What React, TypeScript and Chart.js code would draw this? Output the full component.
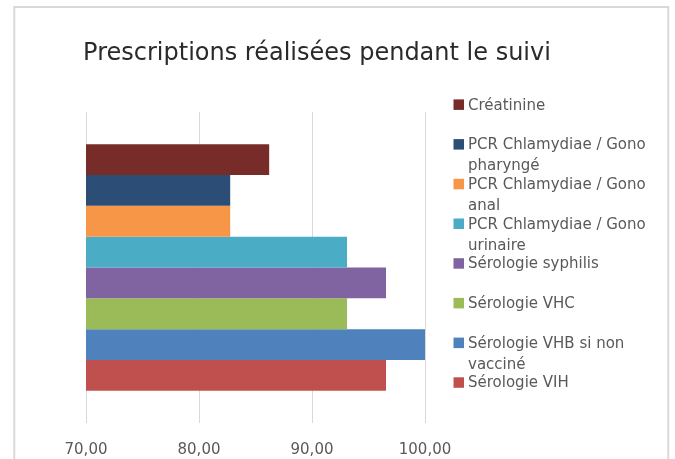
import { useEffect, useRef } from 'react';
import { Chart, registerables } from 'chart.js';

Chart.register(...registerables);

const categories = [''];
const seriesNames = [
  'Créatinine',
  'PCR Chlamydiae / Gono pharyngé',
  'PCR Chlamydiae / Gono anal',
  'PCR Chlamydiae / Gono urinaire',
  'Sérologie syphilis',
  'Sérologie VHC',
  'Sérologie VHB si non vacciné',
  'Sérologie VIH',
];
const seriesValues = [86.21, 82.76, 82.76, 93.1, 96.55, 93.1, 100, 96.55];
const seriesColors = ['#772C2A', '#2C4D75', '#F79646', '#4BACC6', '#8064A2', '#9BBB59', '#4F81BD', '#C0504D'];
const tickValues = [70, 80, 90, 100];
const titleText = 'Prescriptions réalisées pendant le suivi';

const FONT = '"DejaVu Sans", "Liberation Sans", sans-serif';

function wrap(ctx: CanvasRenderingContext2D, text: string, maxW: number): string[] {
  const words = text.split(' ');
  const lines: string[] = [];
  let cur = '';
  for (const w of words) {
    const t = cur ? cur + ' ' + w : w;
    if (ctx.measureText(t).width > maxW && cur) {
      lines.push(cur);
      cur = w;
    } else cur = t;
  }
  if (cur) lines.push(cur);
  return lines;
}

const decor = {
  id: 'decor',
  beforeDraw(chart: any) {
    const ctx = chart.ctx;
    ctx.save();
    ctx.fillStyle = '#ffffff';
    ctx.fillRect(0, 0, chart.width, chart.height);
    ctx.restore();
  },
  afterDraw(chart: any) {
    const ctx: CanvasRenderingContext2D = chart.ctx;
    ctx.save();
    ctx.strokeStyle = '#d9d9d9';
    ctx.lineWidth = 2;
    ctx.strokeRect(14.3, 7, 654, 480);

    ctx.font = '24px ' + FONT;
    ctx.fillStyle = '#2a2a2a';
    ctx.textAlign = 'center';
    ctx.textBaseline = 'alphabetic';
    ctx.fillText(titleText, 317, 60);

    ctx.font = '15px ' + FONT;
    ctx.textAlign = 'left';
    ctx.textBaseline = 'middle';
    chart.data.datasets.forEach((ds: any, i: number) => {
      const y = 104.7 + i * 39.7;
      ctx.fillStyle = ds.backgroundColor;
      ctx.fillRect(453.5, y - 5.3, 10.5, 10.5);
      ctx.fillStyle = '#595959';
      const lines = wrap(ctx, ds.label, 188);
      lines.forEach((ln, j) => ctx.fillText(ln, 468, y + 1 + j * 21));
    });
    ctx.restore();
  },
};

export default function App() {
  const ref = useRef<HTMLCanvasElement>(null);
  useEffect(() => {
    if (!ref.current) return;
    const chart = new Chart(ref.current, {
      type: 'bar',
      data: {
        labels: categories,
        datasets: seriesNames.map((name, i) => ({
          label: name,
          data: [seriesValues[i]],
          backgroundColor: seriesColors[i],
          borderWidth: 0,
          categoryPercentage: 0.793,
          barPercentage: 1,
        })),
      },
      options: {
        indexAxis: 'y',
        animation: false,
        responsive: false,
        layout: { padding: { left: 86, right: 250, top: 112, bottom: 0 } },
        plugins: {
          legend: { display: false },
          title: { display: false },
          tooltip: { enabled: false },
        },
        scales: {
          x: {
            min: tickValues[0],
            max: tickValues[tickValues.length - 1],
            afterBuildTicks: (scale: any) => {
              scale.ticks = tickValues.map((v) => ({ value: v }));
            },
            afterFit: (scale: any) => {
              scale.height = 36;
            },
            grid: { color: '#d9d9d9', lineWidth: 1, drawTicks: false },
            border: { display: false },
            ticks: {
              padding: 18,
              color: '#595959',
              font: { family: FONT, size: 15 },
              maxRotation: 0,
              callback: (v: any) => Number(v).toFixed(2).replace('.', ','),
            },
          },
          y: { display: false },
        },
      },
      plugins: [decor],
    } as any);
    return () => chart.destroy();
  }, []);
  return (
    <div style={{ position: 'fixed', left: 0, top: 0, width: 675, height: 459 }}>
      <canvas ref={ref} width={675} height={459} style={{ display: 'block' }} />
    </div>
  );
}
